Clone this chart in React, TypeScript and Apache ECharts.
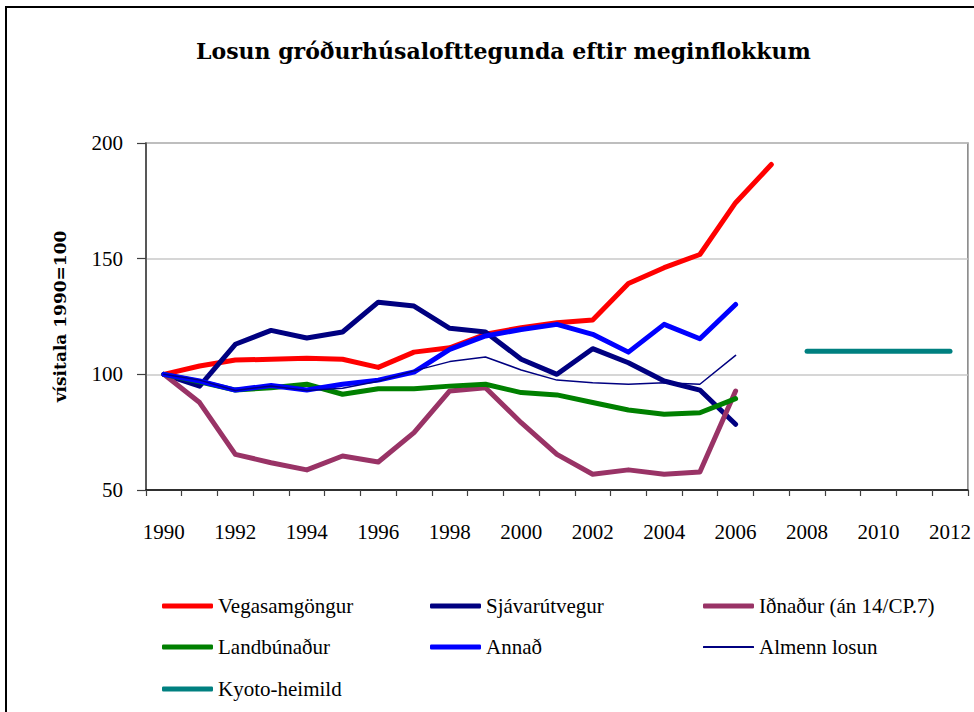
import React, { useEffect, useRef } from "react";
import * as echarts from "echarts";

const years = ["1990","1991","1992","1993","1994","1995","1996","1997","1998","1999","2000","2001","2002","2003","2004","2005","2006","2007","2008","2009","2010","2011","2012"];
const vegasamgongur = [100, 103.6, 106.2, 106.5, 107, 106.5, 103, 109.6, 111.5, 117.3, 120.2, 122.3, 123.5, 139.3, 146.1, 151.8, 174.2, 190.7];
const sjavarutvegur = [100, 94.9, 113, 119, 115.7, 118.3, 131.2, 129.5, 119.9, 118.3, 106.5, 100, 111.1, 105, 97.1, 93.2, 78.4];
const idnadur = [100, 87.8, 65.4, 61.8, 58.7, 64.7, 62.1, 74.8, 92.8, 94.2, 79.1, 65.4, 56.8, 58.7, 56.8, 57.8, 92.8];
const landbunadur = [100, 96.8, 93.2, 94.2, 95.7, 91.4, 93.8, 93.8, 94.9, 95.7, 92.1, 91.1, 87.8, 84.6, 82.7, 83.4, 89.5];
const annad = [100, 97.1, 93.2, 95.2, 93.2, 95.7, 97.5, 101, 110.8, 116.6, 119.4, 121.6, 117.3, 109.6, 121.6, 115.4, 130.2];
const almennLosun = [100, 97.5, 93, 95, 93, 94, 97, 101.5, 105.5, 107.5, 101.9, 97.5, 96.4, 95.7, 96.4, 95.7, 108.2];
const kyotoHeimild = [null, null, null, null, null, null, null, null, null, null, null, null, null, null, null, null, null, null, 110, 110, 110, 110, 110];
const yTicks = [50, 100, 150, 200];

const TITLE = "Losun gróðurhúsalofttegunda eftir meginflokkum";
const Y_NAME = "vísitala 1990=100";

const seriesDefs = [
  { name: "Vegasamgöngur", data: vegasamgongur, color: "#FF0000", width: 5 },
  { name: "Sjávarútvegur", data: sjavarutvegur, color: "#000080", width: 5 },
  { name: "Iðnaður (án 14/CP.7)", data: idnadur, color: "#993366", width: 5 },
  { name: "Landbúnaður", data: landbunadur, color: "#008000", width: 5 },
  { name: "Annað", data: annad, color: "#0000FF", width: 5 },
  { name: "Almenn losun", data: almennLosun, color: "#000080", width: 1.5 },
  { name: "Kyoto-heimild", data: kyotoHeimild, color: "#008080", width: 5 },
];

const legendPos = [
  { left: 162, top: 595 },
  { left: 430, top: 595 },
  { left: 703, top: 595 },
  { left: 162, top: 636 },
  { left: 430, top: 636 },
  { left: 703, top: 636 },
  { left: 162, top: 678 },
];

const SERIF = "'Liberation Serif', 'Times New Roman', serif";

export default function App() {
  const ref = useRef<HTMLDivElement>(null);
  useEffect(() => {
    if (!ref.current) return;
    const chart = echarts.init(ref.current, null, { renderer: "svg" });
    chart.setOption({
      animation: false,
      backgroundColor: "#ffffff",
      title: {
        text: TITLE,
        left: 191,
        top: 35,
        textStyle: { fontFamily: "'DejaVu Serif', serif", fontWeight: "bold", fontSize: 22, color: "#000" },
      },
      graphic: [
        {
          type: "rect",
          shape: { x: 6, y: 7, width: 1000, height: 800 },
          style: { fill: "none", stroke: "#000", lineWidth: 2 },
          silent: true,
        },
      ],
      legend: seriesDefs.map((s, i) => ({
        data: [{ name: s.name }],
        left: legendPos[i].left,
        top: legendPos[i].top,
        padding: 0,
        icon: "roundRect",
        itemWidth: 51,
        itemHeight: s.width > 2 ? 5 : 2,
        selectedMode: false,
        textStyle: { fontFamily: SERIF, fontSize: 21, color: "#000", lineHeight: 22 },
      })),
      grid: {
        left: 146,
        top: 143,
        right: 6,
        bottom: 222,
        show: true,
        borderColor: "#808080",
        borderWidth: 1.5,
        backgroundColor: "transparent",
      },
      xAxis: {
        type: "category",
        data: years,
        boundaryGap: true,
        axisLine: { lineStyle: { color: "#000", width: 1.5 } },
        axisTick: { show: true, interval: 0, length: 6, lineStyle: { color: "#404040", width: 1.2 } },
        axisLabel: { interval: 1, margin: 31, fontFamily: SERIF, fontSize: 21, color: "#000" },
        splitLine: { show: false },
      },
      yAxis: {
        type: "value",
        min: yTicks[0],
        max: yTicks[yTicks.length - 1],
        interval: 50,
        name: Y_NAME,
        nameLocation: "middle",
        nameRotate: 90,
        nameGap: 78,
        nameTextStyle: { fontFamily: "'DejaVu Serif', serif", fontWeight: "bold", fontSize: 17, color: "#000" },
        axisLine: { show: true, lineStyle: { color: "#404040", width: 1.5 } },
        axisTick: { show: true, length: 9, lineStyle: { color: "#404040", width: 1.2 } },
        axisLabel: { margin: 23, fontFamily: SERIF, fontSize: 21, color: "#000" },
        splitLine: { show: true, lineStyle: { color: "#c8c8c8", width: 1.5 } },
      },
      series: seriesDefs.map((s) => ({
        name: s.name,
        type: "line",
        data: s.data,
        showSymbol: false,
        symbol: "none",
        connectNulls: false,
        color: s.color,
        itemStyle: { color: s.color },
        lineStyle: { color: s.color, width: s.width, cap: "round", join: "round" },
      })),
    });
    return () => chart.dispose();
  }, []);
  return (
    <div
      ref={ref}
      style={{ position: "fixed", left: 0, top: 0, width: 974, height: 712 }}
    />
  );
}
